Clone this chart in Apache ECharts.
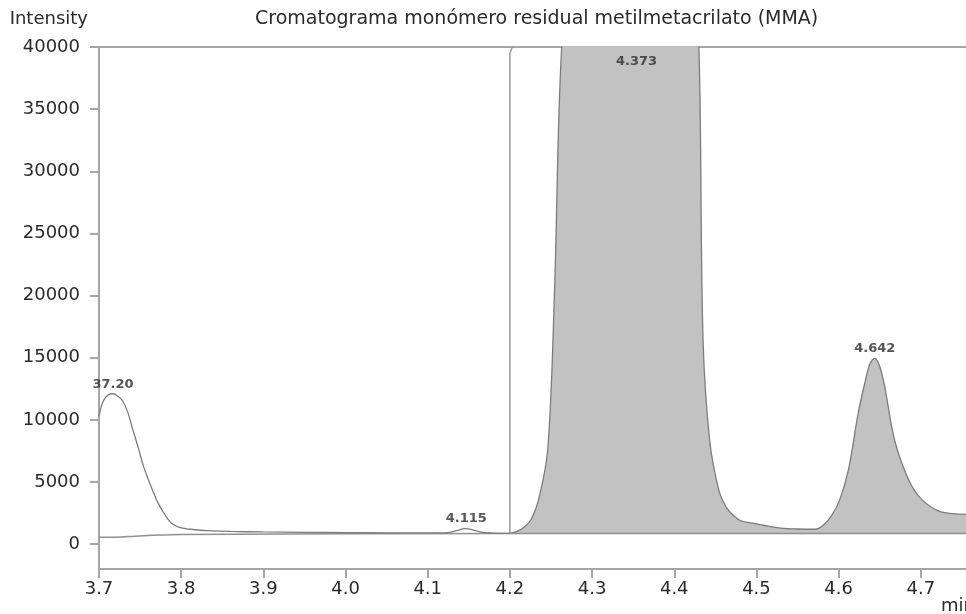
<!DOCTYPE html>
<html>
<head>
<meta charset="utf-8">
<script src="https://cdn.jsdelivr.net/npm/echarts@6/dist/echarts.min.js"></script>
<style>html,body{margin:0;padding:0;background:#fff;}#c{width:966px;height:614px;}</style>
</head>
<body>
<div id="c"></div>
<script>
// ---- data ----
const titleText = 'Cromatograma monómero residual metilmetacrilato (MMA)';
const yTicks = [0, 5000, 10000, 15000, 20000, 25000, 30000, 35000, 40000];
const xTicks = [3.7, 3.8, 3.9, 4.0, 4.1, 4.2, 4.3, 4.4, 4.5, 4.6, 4.7];

// signal before 4.2 min (not integrated)
const timeA = [3.700, 3.705, 3.711, 3.717, 3.723, 3.729, 3.735, 3.741, 3.748, 3.754, 3.760, 3.766, 3.772, 3.778, 3.784, 3.790, 3.800, 3.811, 3.832, 3.86, 3.90, 3.95, 4.00, 4.05, 4.10, 4.125, 4.135, 4.145, 4.155, 4.165, 4.18, 4.20];
const intensityA = [10300, 11500, 12000, 12100, 11900, 11500, 10600, 9250, 7700, 6300, 5200, 4200, 3300, 2600, 2000, 1600, 1300, 1200, 1080, 1020, 980, 950, 930, 910, 900, 930, 1080, 1250, 1150, 960, 890, 870];

// signal from 4.2 min (integrated, shaded)
const timeB = [4.200, 4.208, 4.218, 4.226, 4.235, 4.246, 4.254, 4.263, 4.28, 4.373, 4.42, 4.430, 4.435, 4.443, 4.454, 4.463, 4.473, 4.482, 4.490, 4.510, 4.530, 4.550, 4.571, 4.581, 4.591, 4.601, 4.612, 4.624, 4.632, 4.638, 4.644, 4.650, 4.656, 4.668, 4.685, 4.701, 4.722, 4.740, 4.755];
const intensityB = [870, 1000, 1400, 2000, 3600, 7600, 19700, 40000, 52000, 70000, 52000, 40000, 16500, 8400, 4400, 3000, 2250, 1850, 1750, 1500, 1290, 1220, 1200, 1500, 2250, 3500, 6000, 10600, 13000, 14500, 14950, 14300, 12700, 8400, 5200, 3600, 2650, 2450, 2400];

// integration baseline
const baseTime = [3.70, 3.72, 3.74, 3.76, 3.78, 3.80, 4.20, 4.755];
const baseIntensity = [550, 560, 620, 700, 740, 780, 850, 850];
const fillBaseline = 850;

// marker line at 4.2 min
const markTime = [4.200, 4.200, 4.203, 4.208];
const markIntensity = [850, 39500, 40000, 40500];

// peak labels
const peakTime = [3.717, 4.147, 4.354, 4.644];
const peakIntensity = [12100, 1250, 39600, 14950];
const peakText = ['37.20', '4.115', '4.373', '4.642'];
const peakPos = ['top', 'top', 'bottom', 'top'];

// ---- chart ----
const zip = (xs, ys) => xs.map((x, i) => [x, ys[i]]);
const FONT = 'DejaVu Sans';
const AXIS = '#a6a6a6';
const LINE = '#7c7c7c';
const TXT = '#2a2a2a';

const chart = echarts.init(document.getElementById('c'), null, {renderer: 'canvas'});
chart.setOption({
  animation: false,
  backgroundColor: '#fff',
  textStyle: {fontFamily: FONT},
  title: {
    text: titleText, left: 250, top: 5,
    textStyle: {fontFamily: FONT, fontSize: 19, fontWeight: 'normal', color: TXT}
  },
  grid: {left: 99, right: 0, top: 47, bottom: 45, containLabel: false, outerBoundsMode: 'none'},
  xAxis: [{
    type: 'value', min: 3.7, max: 4.755, position: 'bottom',
    name: 'min', nameLocation: 'end', nameGap: 0,
    nameTextStyle: {fontFamily: FONT, fontSize: 18, color: TXT, align: 'right', verticalAlign: 'top', padding: [28, 0, 0, 0]},
    axisLine: {show: true, onZero: false, lineStyle: {color: AXIS, width: 2}},
    axisTick: {show: true, length: 9, customValues: xTicks, lineStyle: {color: AXIS, width: 2}},
    axisLabel: {show: true, margin: 11, customValues: xTicks, fontFamily: FONT, fontSize: 18, color: TXT,
      formatter: v => v.toFixed(1)},
    splitLine: {show: false}
  }, {
    type: 'value', min: 3.7, max: 4.755, position: 'top',
    axisLine: {show: true, onZero: false, lineStyle: {color: AXIS, width: 2}},
    axisTick: {show: false}, axisLabel: {show: false}, splitLine: {show: false}
  }],
  yAxis: {
    type: 'value', min: -2000, max: 40000,
    name: 'Intensity', nameLocation: 'end', nameGap: 19,
    nameTextStyle: {fontFamily: FONT, fontSize: 18, color: TXT, align: 'right', verticalAlign: 'bottom', padding: [0, 11, 0, 0]},
    axisLine: {show: true, onZero: false, lineStyle: {color: AXIS, width: 2}},
    axisTick: {show: true, length: 9, customValues: yTicks, lineStyle: {color: AXIS, width: 2}},
    axisLabel: {show: true, margin: 19, customValues: yTicks, fontFamily: FONT, fontSize: 18, color: TXT,
      formatter: v => String(v)},
    splitLine: {show: false}
  },
  series: [
    {
      type: 'line', name: 'baseline', data: zip(baseTime, baseIntensity),
      showSymbol: false, smooth: 0.35,
      lineStyle: {color: '#909090', width: 1.5}, z: 3
    },
    {
      type: 'line', name: 'signal', data: zip(timeA, intensityA),
      showSymbol: false, smooth: 0.35,
      lineStyle: {color: LINE, width: 1.3}, z: 4
    },
    {
      type: 'line', name: 'integrated', data: zip(timeB, intensityB),
      showSymbol: false, smooth: 0.35,
      lineStyle: {color: LINE, width: 1.3},
      areaStyle: {color: '#c2c2c2', opacity: 1, origin: fillBaseline}, z: 2
    },
    {
      type: 'line', name: 'marker', data: zip(markTime, markIntensity),
      showSymbol: false, smooth: false,
      lineStyle: {color: '#9c9c9c', width: 1.6}, z: 3
    },
    {
      type: 'scatter', name: 'labels', symbolSize: 0, z: 6,
      data: peakTime.map((t, i) => ({
        value: [t, peakIntensity[i]], name: peakText[i],
        label: {position: peakPos[i]}
      })),
      label: {show: true, formatter: p => p.name, distance: 3, fontFamily: FONT, fontSize: 13, fontWeight: 'bold', color: TXT}
    }
  ]
});
</script>
</body>
</html>
